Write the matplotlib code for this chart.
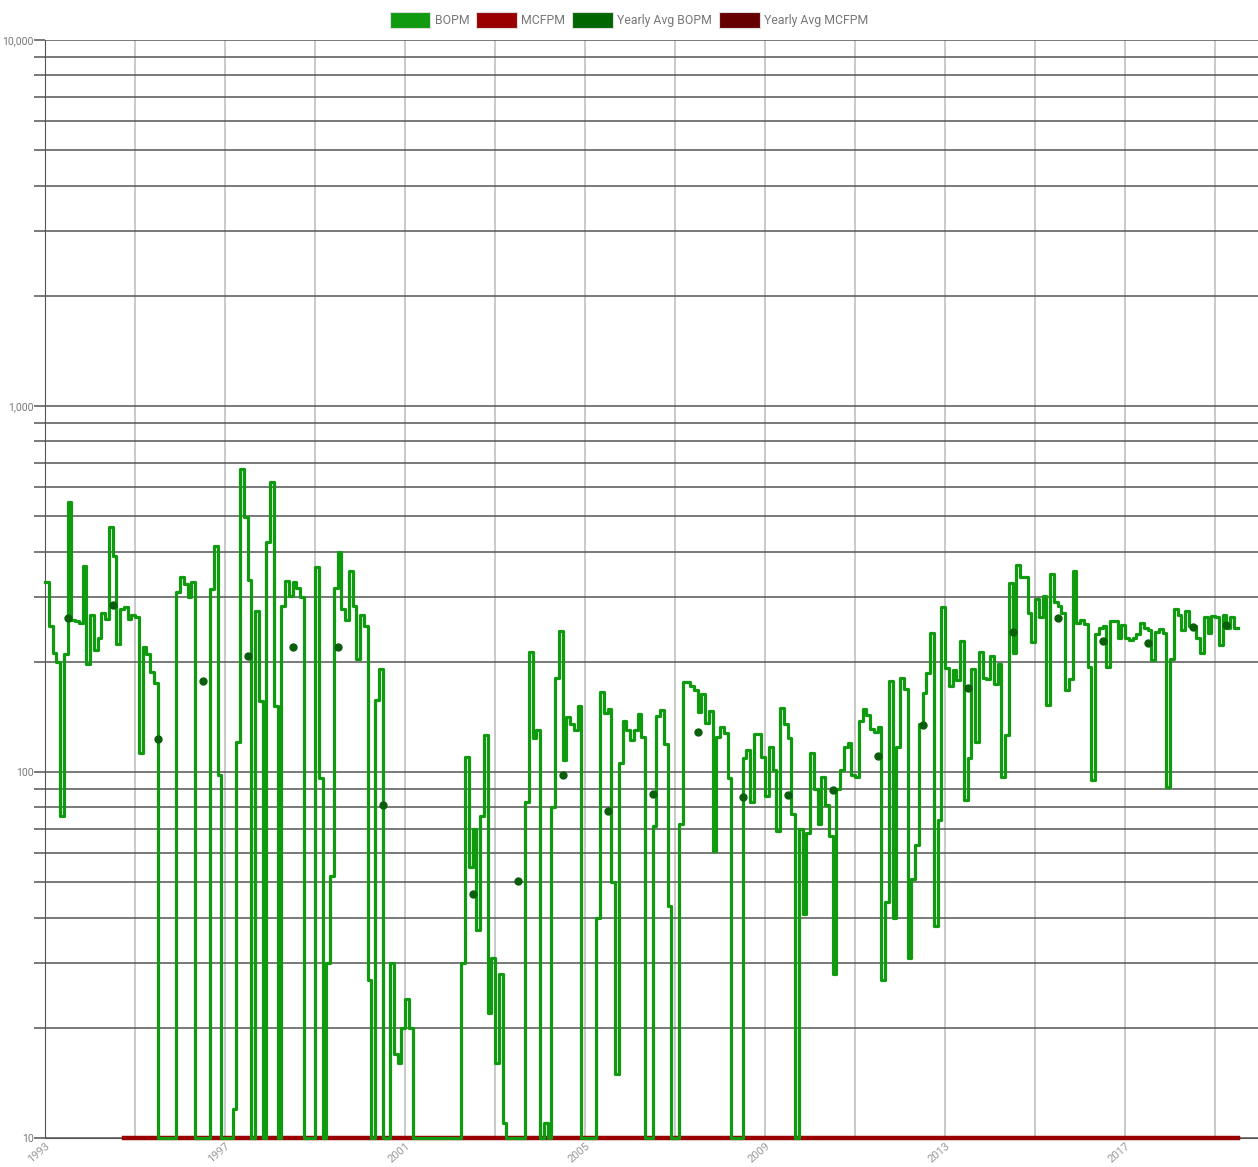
import numpy as np
import matplotlib.pyplot as plt
from matplotlib.patches import Patch
from matplotlib.ticker import FixedLocator, FuncFormatter, NullFormatter

plt.rcParams['font.family'] = ['Roboto', 'DejaVu Sans']

# monthly BOPM, Jan 1993 .. Jun 2019 (0 = no production)
start_year = 1993
bopm = [
    330, 250, 212, 200, 76, 210, 545, 260, 258, 255, 366, 197,      # 1993
    268, 216, 232, 272, 262, 468, 389, 224, 278, 283, 262, 268,     # 1994
    265, 113, 219, 210, 188, 175, 0, 0, 0, 0, 0, 311,               # 1995
    341, 327, 301, 330, 0, 0, 0, 0, 316, 415, 98, 0,                # 1996
    0, 0, 12, 121, 674, 498, 334, 0, 276, 156, 0, 424,              # 1997
    618, 151, 0, 284, 333, 302, 330, 318, 300, 0, 0, 0,             # 1998
    363, 96, 0, 30, 52, 318, 398, 278, 260, 355, 284, 203,          # 1999
    268, 250, 27, 0, 157, 191, 0, 0, 30, 17, 16, 20,                # 2000
    24, 20, 0, 0, 0, 0, 0, 0, 0, 0, 0, 0,                           # 2001
    0, 0, 0, 30, 110, 55, 70, 37, 76, 126, 22, 31,                  # 2002
    16, 28, 11, 0, 0, 0, 0, 0, 83, 213, 124, 130,                   # 2003
    0, 11, 0, 80, 181, 243, 108, 141, 135, 130, 151, 0,             # 2004
    0, 0, 0, 40, 165, 145, 149, 50, 15, 106, 138, 130,              # 2005
    122, 130, 144, 125, 0, 0, 71, 142, 148, 119, 43, 0,             # 2006
    0, 72, 176, 176, 172, 167, 146, 163, 136, 147, 61, 125,         # 2007
    133, 128, 96, 0, 0, 0, 109, 115, 83, 127, 127, 110,             # 2008
    86, 117, 101, 69, 150, 135, 124, 77, 0, 70, 41, 68,             # 2009
    113, 90, 72, 97, 81, 67, 28, 90, 101, 117, 120, 98,             # 2010
    97, 138, 149, 143, 131, 129, 133, 27, 44, 177, 40, 117,         # 2011
    181, 169, 31, 51, 63, 135, 164, 187, 240, 38, 74, 283,          # 2012
    192, 172, 190, 178, 228, 84, 109, 191, 121, 213, 181, 180,      # 2013
    208, 174, 197, 97, 126, 329, 212, 367, 341, 340, 272, 226,      # 2014
    297, 265, 302, 152, 348, 292, 284, 272, 167, 180, 354, 255,     # 2015
    261, 254, 194, 95, 238, 247, 250, 194, 259, 259, 232, 252,      # 2016
    233, 230, 232, 239, 255, 248, 245, 202, 242, 246, 240, 91,      # 2017
    203, 278, 268, 245, 275, 250, 250, 233, 212, 265, 240, 266,     # 2018
    265, 222, 268, 248, 265, 247,                                   # 2019
]
# MCFPM reported from Oct 1994, always zero
mcfpm_first_month = 21
mcfpm = [0] * (len(bopm) - mcfpm_first_month)

x_labels = [1993, 1997, 2001, 2005, 2009, 2013, 2017]

GREEN = '#0f9a0f'
RED = '#990000'
DKGREEN = '#006600'
DKRED = '#660000'
FLOOR = 10

bopm = np.array(bopm, dtype=float)
mcfpm = np.array(mcfpm, dtype=float)
months = np.arange(len(bopm))
x = start_year + months / 12.0

def step_xy(xv, yv):
    # repeat last point so the final month gets its width
    xs = np.append(xv, xv[-1] + 1 / 12.0)
    ys = np.append(yv, yv[-1])
    return xs, np.maximum(ys, FLOOR)

# yearly averages
years = np.arange(start_year, start_year + int(np.ceil(len(bopm) / 12)))
avg_x, avg_y = [], []
for yr in years:
    sel = (months // 12) == (yr - start_year)
    avg_x.append(np.mean(x[sel] + 1 / 24.0))
    avg_y.append(bopm[sel].mean())
avg_x = np.array(avg_x)
avg_y = np.array(avg_y)

fig = plt.figure(figsize=(12.58, 11.67), dpi=100)
ax = fig.add_axes([45 / 1258, 29 / 1167, 1 - 45 / 1258, (1138 - 40) / 1167])

xm, ym = step_xy(x[mcfpm_first_month:], mcfpm)
ax.plot(xm, ym, drawstyle='steps-post', color=RED, lw=3.2, clip_on=False, zorder=3)
xb, yb = step_xy(x, bopm)
ax.plot(xb, yb, drawstyle='steps-post', color=GREEN, lw=2.3, clip_on=False, zorder=4)
ok = avg_y >= FLOOR
ax.plot(avg_x[ok], avg_y[ok], 'o', color='#0b5e0b', ms=5, zorder=5)

ax.set_yscale('log')
ax.set_ylim(10, 10000)
ax.set_xlim(start_year, start_year + (1258 - 45) / 45.0)

ax.yaxis.set_major_locator(FixedLocator([10, 100, 1000, 10000]))
ax.yaxis.set_major_formatter(FuncFormatter(lambda v, p: f'{int(round(v)):,}'))
minor = [m * d for d in (10, 100, 1000) for m in range(2, 10)]
ax.yaxis.set_minor_locator(FixedLocator(minor))
ax.yaxis.set_minor_formatter(NullFormatter())

ax.set_xticks(range(1993, 2020, 2))
ax.set_xticklabels([str(t) if t in x_labels else '' for t in range(1993, 2020, 2)],
                   rotation=40, ha='right', va='top', rotation_mode='anchor')

ax.grid(True, axis='y', which='both', color='#555555', lw=1.1)
ax.grid(True, axis='x', which='major', color='#bbbbbb', lw=1.1)
ax.set_axisbelow(True)

ax.tick_params(axis='y', which='both', length=8, color='#555555', width=1.1,
               labelsize=7.5, labelcolor='#777777', pad=0)
ax.tick_params(axis='x', length=0, labelsize=8, labelcolor='#999999', pad=2)

for s in ('top', 'right'):
    ax.spines[s].set_visible(False)
ax.spines['left'].set_color('#555555')
ax.spines['bottom'].set_color('#555555')

handles = [Patch(facecolor=c, edgecolor='#dddddd', lw=0.8) for c in (GREEN, RED, DKGREEN, DKRED)]
labels = ['BOPM', 'MCFPM', 'Yearly Avg BOPM', 'Yearly Avg MCFPM']
fig.legend(handles, labels, loc='upper center', bbox_to_anchor=(0.5, 0.999), ncol=4,
           frameon=False, handlelength=3.3, handleheight=1.6, columnspacing=0.6,
           handletextpad=0.35, fontsize=8.8, labelcolor='#777777')

fig.savefig('out.png', dpi=100)
